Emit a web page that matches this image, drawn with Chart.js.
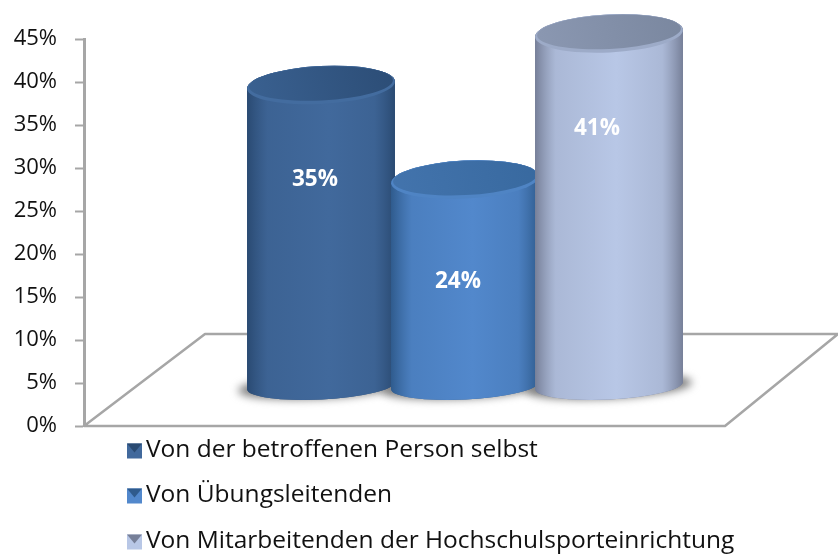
<!DOCTYPE html>
<html>
<head>
<meta charset="utf-8">
<title>Chart</title>
<script src="https://cdn.jsdelivr.net/npm/chart.js@4"></script>
<style>
  html, body { margin: 0; padding: 0; background: #fff; overflow: hidden; }
  #wrap { width: 838px; height: 556px; overflow: hidden; }
</style>
</head>
<body>
<div id="wrap"><canvas id="chart" width="846" height="556"></canvas></div>
<script>
const categories = ['Antwort'];
const seriesLabels = [
  'Von der betroffenen Person selbst',
  'Von Übungsleitenden',
  'Von Mitarbeitenden der Hochschulsporteinrichtung'
];
const seriesValues = [35, 24, 41];
const yTicks = [0, 5, 10, 15, 20, 25, 30, 35, 40, 45];

// [edge, centre, top dark, top light, rim]
const palette = [
  ['#2a4a72', '#41699c', '#2c4d76', '#3a6191', '#436c9f'],
  ['#2f5b8d', '#5288cc', '#38699f', '#4374ad', '#4f84c4'],
  ['#767f98', '#b8c7e6', '#7a879f', '#8b98b2', '#9dabc8']
];

const FONT = '"Open Sans", sans-serif';
const LIFT = 40;    // cylinders stand this far behind the front edge of the floor
const DEPTH = 92;   // floor depth
const TILT = -0.05;
const RY = 19;      // lid
const RY_BASE = 14; // foot of the cylinder is seen flatter

const floor3d = {
  id: 'floor3d',
  beforeDatasetsDraw(chart) {
    const ctx = chart.ctx, y0 = chart.scales.y.getPixelForValue(0), x0 = chart.chartArea.left;
    ctx.save();
    ctx.strokeStyle = '#a6a6a6';
    ctx.lineWidth = 2.5;
    ctx.lineJoin = 'round';
    ctx.beginPath();
    ctx.moveTo(chart.chartArea.right, y0 - DEPTH);
    ctx.lineTo(x0 + 121, y0 - DEPTH);
    ctx.lineTo(x0, y0);
    ctx.lineTo(x0 + 641, y0);
    ctx.lineTo(x0 + 641 + 113, y0 - DEPTH);
    ctx.stroke();
    ctx.restore();
  },
  afterDatasetsDraw(chart) {
    const ctx = chart.ctx;
    const bars = chart.data.datasets.map((d, i) => chart.getDatasetMeta(i).data[0]);
    ctx.save();
    // soft shadows go first so every cylinder covers them
    bars.forEach(b => {
      ctx.save();
      ctx.filter = 'blur(4px)';
      ctx.fillStyle = '#7a7a7a';
      ctx.beginPath();
      ctx.ellipse(b.x, b.base - LIFT + 1, b.width / 2 + 11, RY_BASE - 2, TILT, 0, Math.PI * 2);
      ctx.fill();
      ctx.restore();
    });
    bars.forEach((b, i) => {
      const c = palette[i], rx = b.width / 2 + 2, top = b.y - LIFT, bot = b.base - LIFT;
      const g = ctx.createLinearGradient(b.x - rx, 0, b.x + rx, 0);
      g.addColorStop(0, c[0]);
      g.addColorStop(0.14, c[1] + 'cc');
      g.addColorStop(0.55, c[1]);
      g.addColorStop(0.86, c[1] + 'cc');
      g.addColorStop(1, c[0]);
      ctx.beginPath();
      ctx.ellipse(b.x, top, rx, RY, TILT, Math.PI, Math.PI * 2);
      ctx.ellipse(b.x, bot, rx, RY_BASE, TILT, 0, Math.PI);
      ctx.closePath();
      ctx.fillStyle = c[0];
      ctx.fill();
      ctx.fillStyle = g;
      ctx.fill();
      // lid with a lighter bevel round it
      ctx.fillStyle = c[4];
      ctx.beginPath();
      ctx.ellipse(b.x, top, rx, RY, TILT, 0, Math.PI * 2);
      ctx.fill();
      const t = ctx.createLinearGradient(b.x - rx, top + RY, b.x + rx, top - RY);
      t.addColorStop(0, c[3]);
      t.addColorStop(1, c[2]);
      ctx.fillStyle = t;
      ctx.beginPath();
      ctx.ellipse(b.x, top - 1.5, rx - 2, RY - 2, TILT, 0, Math.PI * 2);
      ctx.fill();
    });
    // value labels, nudged by hand to where the original has them
    const nudgeX = [-6, -7, -12], nudgeY = [0, 7, 0];
    ctx.fillStyle = '#fff';
    ctx.font = 'bold 22.5px ' + FONT;
    ctx.textAlign = 'center';
    ctx.textBaseline = 'middle';
    bars.forEach((b, i) => {
      ctx.fillText(seriesValues[i] + '%', b.x + nudgeX[i], b.y - LIFT + 95 + nudgeY[i]);
    });
    // legend: one row per series, left aligned under the axis
    const rowY = [450, 495, 541];
    ctx.textAlign = 'left';
    ctx.font = '24.5px ' + FONT;
    seriesLabels.forEach((text, i) => {
      const c = palette[i], y = rowY[i], x = 127, s = 15, m = y - s / 2 + 1;
      ctx.fillStyle = c[1];
      ctx.fillRect(x, m, s, s);
      ctx.fillStyle = c[0];
      ctx.beginPath();
      ctx.moveTo(x, m); ctx.lineTo(x + s, m); ctx.lineTo(x + s / 2, m + s * 0.6);
      ctx.closePath();
      ctx.fill();
      ctx.fillStyle = '#111';
      ctx.fillText(text, 146, y);
    });
    ctx.restore();
  }
};

new Chart(document.getElementById('chart'), {
  type: 'bar',
  data: {
    labels: categories,
    datasets: seriesLabels.map((label, i) => ({
      label,
      data: [seriesValues[i]],
      backgroundColor: 'rgba(0,0,0,0)',
      barThickness: 144
    }))
  },
  options: {
    responsive: false,
    animation: false,
    layout: { padding: { top: 39, bottom: 130 } },
    scales: {
      x: { display: false },
      y: {
        min: 0,
        max: 45,
        afterFit(s) { s.width = 84; },
        afterBuildTicks(s) { s.ticks = yTicks.map(value => ({ value })); },
        border: { color: '#a6a6a6', width: 3 },
        grid: { drawOnChartArea: false, color: '#a6a6a6', tickLength: 9, tickWidth: 2 },
        ticks: {
          padding: 18,
          color: '#111',
          font: { family: FONT, size: 22 },
          callback: v => v + '%'
        }
      }
    },
    plugins: {
      tooltip: { enabled: false },
      legend: { display: false }
    }
  },
  plugins: [floor3d]
});
</script>
</body>
</html>
